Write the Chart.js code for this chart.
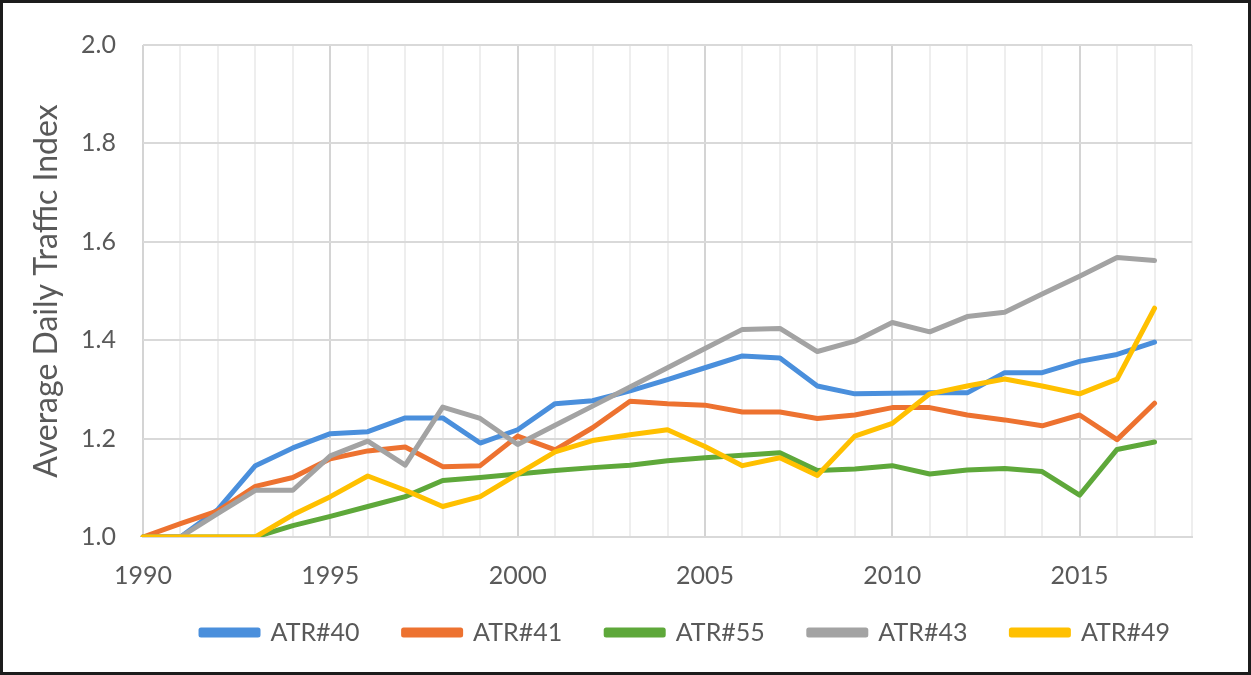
<!DOCTYPE html>
<html>
<head>
<meta charset="utf-8">
<script src="https://cdn.jsdelivr.net/npm/chart.js@4.4.1/dist/chart.umd.min.js"></script>
<style>
  html, body { margin: 0; padding: 0; background: #fff; }
  #wrap {
    position: relative;
    width: 1251px;
    height: 675px;
    box-sizing: border-box;
    border: 3px solid #1c1c1c;
    background: #fff;
  }
  #chart { display: block; }
</style>
</head>
<body>
<div id="wrap">
  <canvas id="chart" width="1245" height="669"></canvas>
</div>
<script>
'use strict';

// axis runs one year past the data, like the original
var years = [1990, 1991, 1992, 1993, 1994, 1995, 1996, 1997, 1998, 1999,
             2000, 2001, 2002, 2003, 2004, 2005, 2006, 2007, 2008, 2009,
             2010, 2011, 2012, 2013, 2014, 2015, 2016, 2017, 2018];
var yearTicks = [1990, 1995, 2000, 2005, 2010, 2015];
var seriesNames = ['ATR#40', 'ATR#41', 'ATR#55', 'ATR#43', 'ATR#49'];
var seriesColors = ['#4a8fdc', '#ed7230', '#5ea83a', '#a3a3a3', '#ffc000'];

var atr40 = [1.000, 1.000, 1.056, 1.145, 1.181, 1.210, 1.214, 1.242, 1.242, 1.191,
             1.218, 1.271, 1.277, 1.297, 1.320, 1.344, 1.368, 1.364, 1.307, 1.291,
             1.292, 1.293, 1.293, 1.334, 1.334, 1.357, 1.371, 1.396];
var atr41 = [1.000, 1.027, 1.053, 1.103, 1.121, 1.159, 1.175, 1.183, 1.143, 1.145,
             1.205, 1.177, 1.222, 1.276, 1.271, 1.268, 1.254, 1.254, 1.241, 1.248,
             1.263, 1.263, 1.248, 1.238, 1.226, 1.248, 1.198, 1.272];
var atr55 = [1.000, 1.000, 1.000, 1.000, 1.023, 1.042, 1.062, 1.082, 1.115, 1.121,
             1.128, 1.135, 1.141, 1.146, 1.155, 1.161, 1.166, 1.171, 1.135, 1.138,
             1.145, 1.128, 1.136, 1.139, 1.133, 1.085, 1.178, 1.193];
var atr43 = [1.000, 1.000, 1.048, 1.095, 1.095, 1.165, 1.195, 1.146, 1.264, 1.241,
             1.188, 1.227, 1.266, 1.305, 1.344, 1.383, 1.422, 1.424, 1.377, 1.398,
             1.436, 1.417, 1.448, 1.457, 1.494, 1.530, 1.568, 1.562];
var atr49 = [1.000, 1.000, 1.000, 1.000, 1.045, 1.082, 1.124, 1.095, 1.062, 1.082,
             1.128, 1.173, 1.196, 1.208, 1.218, 1.184, 1.145, 1.161, 1.125, 1.205,
             1.231, 1.291, 1.307, 1.321, 1.307, 1.291, 1.321, 1.465];

var seriesValues = [atr40, atr41, atr55, atr43, atr49];

var FONT = 'Lato, "Open Sans", sans-serif';
var TEXT = '#595959';

// last series sits on top (Excel order), so feed them in reverse and flip the legend
var datasets = [];
for (var i = seriesNames.length - 1; i >= 0; i--) {
    datasets.push({
        label: seriesNames[i],
        data: seriesValues[i],
        borderColor: seriesColors[i],
        backgroundColor: seriesColors[i],
        borderWidth: 5,
        pointRadius: 0,
        tension: 0,
        fill: false,
        borderJoinStyle: 'round',
        borderCapStyle: 'round'
    });
}

// nudge the legend row so it sits where the original has it
var legendShift = {
    id: 'legendShift',
    afterLayout: function(chart) {
        var lg = chart.legend;
        if (!lg) return;
        lg.left += 88;
        lg.right += 88;
        lg.top -= 17;
        lg.bottom -= 17;
    }
};

var ctx = document.getElementById('chart').getContext('2d');
new Chart(ctx, {
    type: 'line',
    data: { labels: years, datasets: datasets },
    options: {
        responsive: false,
        animation: false,
        layout: { padding: { top: 20, right: 56, bottom: 0, left: 0 } },
        plugins: {
            tooltip: { enabled: false },
            legend: {
                position: 'bottom',
                reverse: true,
                labels: {
                    boxWidth: 57,
                    boxHeight: 5,
                    padding: 44,
                    color: TEXT,
                    font: { family: FONT, size: 25 }
                }
            }
        },
        scales: {
            x: {
                type: 'category',
                offset: false,
                afterFit: function(scale) { scale.height = 56; },
                border: { color: '#d9d9d9', width: 2 },
                grid: {
                    drawTicks: false,
                    lineWidth: 2,
                    color: function(c) {
                        var y = years[c.index];
                        return (y % 5 === 0) ? '#d4d4d4' : '#eeeeee';
                    }
                },
                ticks: {
                    autoSkip: false,
                    maxRotation: 0,
                    padding: 24,
                    color: TEXT,
                    font: { family: FONT, size: 25 },
                    callback: function(v, idx) {
                        var y = years[idx];
                        return yearTicks.indexOf(y) >= 0 ? String(y) : '';
                    }
                }
            },
            y: {
                min: 1.0,
                max: 2.0,
                afterFit: function(scale) { scale.width = 140; },
                border: { display: false },
                grid: { drawTicks: false, lineWidth: 2, color: '#d9d9d9' },
                ticks: {
                    stepSize: 0.2,
                    padding: 27,
                    color: TEXT,
                    font: { family: FONT, size: 25 },
                    callback: function(v) { return Number(v).toFixed(1); }
                },
                title: {
                    display: true,
                    text: 'Average Daily Traffic Index',
                    color: TEXT,
                    font: { family: FONT, size: 32 },
                    padding: { top: 24, bottom: 0 }
                }
            }
        }
    },
    plugins: [legendShift]
});
</script>
</body>
</html>
